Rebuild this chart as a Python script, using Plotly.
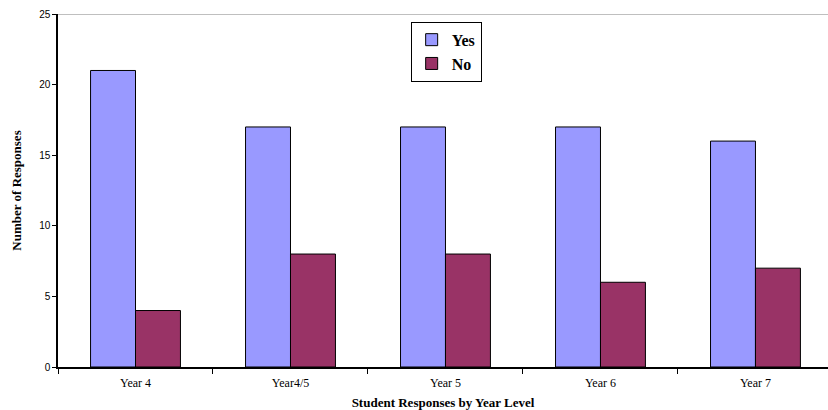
import plotly.graph_objects as go

categories = ["Year 4", "Year4/5", "Year 5", "Year 6", "Year 7"]
yes_values = [21, 17, 17, 17, 16]
no_values = [4, 8, 8, 6, 7]
y_ticks = [0, 5, 10, 15, 20, 25]

fig = go.Figure()
fig.add_trace(go.Bar(name="<b>Yes</b>", x=categories, y=yes_values,
                     marker=dict(color="#9999FF", line=dict(color="#000000", width=1))))
fig.add_trace(go.Bar(name="<b>No</b>", x=categories, y=no_values,
                     marker=dict(color="#993366", line=dict(color="#000000", width=1))))

fig.update_layout(
    width=828, height=410,
    margin=dict(l=58, r=0, t=14, b=43, autoexpand=False),
    paper_bgcolor="white", plot_bgcolor="white",
    barmode="group", bargap=0.42, bargroupgap=0,
    showlegend=True,
    legend=dict(x=0.458, y=0.978, xanchor="left", yanchor="top",
                bordercolor="#000000", borderwidth=1, bgcolor="white",
                font=dict(family="Liberation Serif", size=16, color="#000000"),
                tracegroupgap=0, itemwidth=30),
    xaxis=dict(
        automargin=False,
        range=[-0.5, 4.468],
        tickson="boundaries", ticks="outside", ticklen=5, tickcolor="#000000",
        showline=True, linecolor="#000000", linewidth=1.5,
        showgrid=False,
        ticklabelstandoff=4,
        tickfont=dict(family="Liberation Serif", size=12, color="#000000"),
        title=dict(text="<b>Student Responses by Year Level</b>",
                   font=dict(family="Liberation Serif", size=13, color="#000000"),
                   standoff=10),
    ),
    yaxis=dict(
        automargin=False,
        range=[0, 25], tickvals=y_ticks,
        ticks="outside", ticklen=4, tickcolor="#000000",
        showline=True, linecolor="#000000", linewidth=1.5,
        showgrid=False, zeroline=False,
        tickfont=dict(family="Liberation Sans", size=10, color="#000000"),
        title=dict(text="<b>Number of Responses</b>",
                   font=dict(family="Liberation Serif", size=13, color="#000000"),
                   standoff=15),
    ),
)
fig.add_shape(type="line", xref="paper", yref="y", x0=0, x1=1, y0=25, y1=25,
              line=dict(color="#808080", width=1))

fig.write_html("out.html", config={"displayModeBar": False},
               post_script="document.body.style.margin='0';")
